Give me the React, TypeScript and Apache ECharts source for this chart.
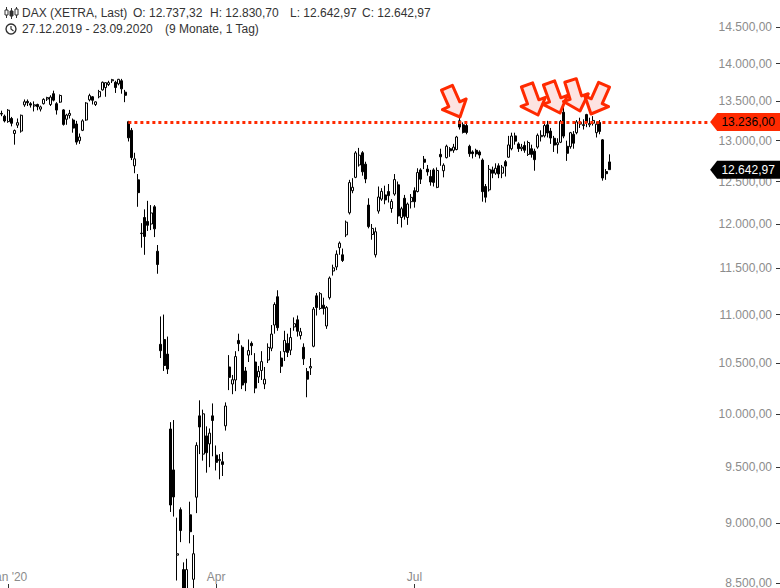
import React, { useEffect, useRef } from 'react';
import * as echarts from 'echarts';

// ---------- data ----------
const dates = [
  '2019-12-27','2019-12-30',
  '2020-01-02','2020-01-03','2020-01-06','2020-01-07','2020-01-08','2020-01-09','2020-01-10','2020-01-13','2020-01-14','2020-01-15','2020-01-16','2020-01-17','2020-01-20','2020-01-21','2020-01-22','2020-01-23','2020-01-24','2020-01-27','2020-01-28','2020-01-29','2020-01-30','2020-01-31',
  '2020-02-03','2020-02-04','2020-02-05','2020-02-06','2020-02-07','2020-02-10','2020-02-11','2020-02-12','2020-02-13','2020-02-14','2020-02-17','2020-02-18','2020-02-19','2020-02-20','2020-02-21','2020-02-24','2020-02-25','2020-02-26','2020-02-27','2020-02-28',
  '2020-03-02','2020-03-03','2020-03-04','2020-03-05','2020-03-06','2020-03-09','2020-03-10','2020-03-11','2020-03-12','2020-03-13','2020-03-16','2020-03-17','2020-03-18','2020-03-19','2020-03-20','2020-03-23','2020-03-24','2020-03-25','2020-03-26','2020-03-27','2020-03-30','2020-03-31',
  '2020-04-01','2020-04-02','2020-04-03','2020-04-06','2020-04-07','2020-04-08','2020-04-09','2020-04-14','2020-04-15','2020-04-16','2020-04-17','2020-04-20','2020-04-21','2020-04-22','2020-04-23','2020-04-24','2020-04-27','2020-04-28','2020-04-29','2020-04-30',
  '2020-05-04','2020-05-05','2020-05-06','2020-05-07','2020-05-08','2020-05-11','2020-05-12','2020-05-13','2020-05-14','2020-05-15','2020-05-18','2020-05-19','2020-05-20','2020-05-21','2020-05-22','2020-05-25','2020-05-26','2020-05-27','2020-05-28','2020-05-29',
  '2020-06-02','2020-06-03','2020-06-04','2020-06-05','2020-06-08','2020-06-09','2020-06-10','2020-06-11','2020-06-12','2020-06-15','2020-06-16','2020-06-17','2020-06-18','2020-06-19','2020-06-22','2020-06-23','2020-06-24','2020-06-25','2020-06-26','2020-06-29','2020-06-30',
  '2020-07-01','2020-07-02','2020-07-03','2020-07-06','2020-07-07','2020-07-08','2020-07-09','2020-07-10','2020-07-13','2020-07-14','2020-07-15','2020-07-16','2020-07-17','2020-07-20','2020-07-21','2020-07-22','2020-07-23','2020-07-24','2020-07-27','2020-07-28','2020-07-29','2020-07-30','2020-07-31',
  '2020-08-03','2020-08-04','2020-08-05','2020-08-06','2020-08-07','2020-08-10','2020-08-11','2020-08-12','2020-08-13','2020-08-14','2020-08-17','2020-08-18','2020-08-19','2020-08-20','2020-08-21','2020-08-24','2020-08-25','2020-08-26','2020-08-27','2020-08-28','2020-08-31',
  '2020-09-01','2020-09-02','2020-09-03','2020-09-04','2020-09-07','2020-09-08','2020-09-09','2020-09-10','2020-09-11','2020-09-14','2020-09-15','2020-09-16','2020-09-17','2020-09-18','2020-09-21','2020-09-22','2020-09-23'
];

const opens = [
  13345,13310,
  13240,13280,13090,13195,13120,13455,13500,13470,13440,13460,13400,13470,13530,13460,13600,13470,13490,13390,13270,13320,13260,13210,
  13000,13130,13260,13520,13560,13460,13560,13650,13680,13720,13770,13750,13730,13770,13620,13240,13130,12690,12520,11895,
  12075,12030,12000,12200,11690,10690,10740,10590,9855,9475,8730,9120,8610,8450,9075,8530,9230,9980,9620,9790,9715,9980,
  9610,9560,9550,9885,10460,10290,10330,10730,10660,10420,10580,10700,10510,10360,10425,10290,10530,10650,10890,11190,
  10550,10615,10700,10630,10870,10945,10780,10660,10415,10450,10670,11200,11065,11100,10880,11180,11470,11515,11730,11650,
  11875,12130,12390,12550,12700,12850,12710,12220,11880,11650,12150,12290,12340,12380,12180,12350,12460,12075,12300,12075,12260,
  12390,12380,12640,12770,12650,12560,12640,12430,12830,12630,12790,12900,12880,12890,13250,13200,13190,12930,12860,12880,12860,12760,12440,
  12400,12640,12600,12690,12600,12740,12795,12900,13060,12960,12900,12940,12830,12900,12870,12920,13050,13060,13200,13120,13030,
  12950,12980,13360,12930,12925,13080,13100,13230,13190,13330,13200,13220,13100,13230,13010,12620,12737.32
];

const closes = [
  13337,13249,
  13386,13219,13127,13227,13321,13495,13483,13452,13456,13432,13429,13526,13549,13556,13516,13388,13577,13205,13324,13345,13158,12982,
  13046,13250,13479,13575,13514,13494,13627,13750,13745,13745,13784,13681,13789,13664,13579,13035,12790,12775,12367,11890,
  11857,11985,12128,11944,11542,10625,10475,10439,9161,9232,8742,8939,8441,8610,8929,8742,9701,9874,10000,9633,9816,9936,
  9544,9571,9525,10075,10356,10333,10565,10697,10280,10302,10626,10676,10250,10416,10514,10337,10659,10796,11107,10862,
  10467,10730,10607,10760,10904,10825,10820,10542,10338,10465,11058,11075,11223,11065,11074,11392,11505,11657,11781,11587,
  12021,12487,12431,12848,12820,12617,12530,11970,11949,11911,12315,12382,12281,12331,12263,12523,12093,12177,12089,12232,12311,
  12260,12608,12528,12733,12616,12494,12489,12633,12800,12697,12931,12874,12920,13046,13171,13104,13103,12838,12839,12836,12822,12379,12313,
  12647,12600,12660,12591,12674,12687,12947,13058,12994,12901,12920,12881,12977,12830,12765,13067,13066,13190,13096,13033,12945,
  12974,13243,13057,12843,13100,12968,13237,13209,13202,13230,13217,13255,13208,13116,12542,12594,12642.97
];

const lows = [
  13310,13230,
  13225,13180,12950,13160,13100,13430,13440,13420,13370,13385,13370,13460,13505,13440,13500,13330,13480,13190,13200,13280,13100,12950,
  12960,13120,13250,13500,13460,13440,13540,13640,13560,13700,13740,13610,13710,13600,13490,12990,12760,12600,12200,11730,
  11650,11920,11930,11850,11440,10550,10420,10390,9100,9060,8520,8840,8255,8300,8830,8400,9090,9620,9560,9450,9500,9600,
  9470,9390,9420,9840,10230,10190,10220,10620,10240,10220,10510,10580,10200,10300,10330,10240,10500,10620,10800,10830,
  10400,10520,10560,10580,10830,10770,10740,10480,10160,10380,10660,10990,11050,11000,10850,11160,11420,11480,11650,11570,
  11850,12110,12360,12540,12680,12570,12480,11950,11820,11620,12120,12270,12230,12250,12130,12330,12000,11960,12050,11990,12180,
  12190,12370,12470,12650,12570,12450,12440,12420,12690,12550,12780,12800,12850,12880,13140,13090,13080,12800,12780,12800,12780,12260,12250,
  12380,12540,12580,12540,12540,12560,12790,12880,12950,12860,12870,12850,12810,12790,12630,12900,12990,13040,13040,12960,12860,
  12840,12970,13030,12750,12900,12900,13080,13160,13140,13170,13170,13190,13040,13080,12510,12520,12642.97
];

const highs = [
  13380,13330,
  13400,13300,13140,13280,13330,13525,13525,13490,13500,13470,13445,13540,13560,13580,13640,13490,13590,13400,13340,13390,13280,13250,
  13090,13270,13490,13600,13570,13500,13650,13760,13750,13770,13795,13770,13795,13795,13650,13250,13160,12850,12590,12010,
  12170,12270,12220,12220,11760,10980,11000,10770,9920,9940,9050,9140,8670,8700,9190,8900,9730,10130,10040,9880,9860,10100,
  9700,9620,9640,10110,10580,10380,10620,10800,10680,10460,10740,10720,10600,10470,10620,10460,10700,10890,11130,11260,
  10620,10830,10800,10860,10970,10990,10860,10700,10450,10550,11080,11230,11240,11180,11090,11410,11540,11700,11800,11720,
  12040,12520,12540,12870,12910,12870,12740,12300,12000,11960,12440,12420,12450,12470,12290,12590,12500,12200,12340,12250,12350,
  12430,12660,12660,12810,12700,12640,12660,12670,12900,12720,12950,12920,12960,13060,13313,13230,13220,12950,12880,12900,12880,12780,12470,
  12700,12680,12720,12720,12700,12760,13060,13100,13100,12980,12960,12990,13000,12950,12900,13090,13130,13230,13250,13160,13060,
  13030,13260,13460,13000,13110,13120,13260,13290,13270,13340,13290,13310,13240,13260,13020,12650,12830.70
];

// axis ticks / labels
const yTickValues = [8500, 9000, 9500, 10000, 10500, 11000, 11500, 12000, 12500, 13000, 13500, 14000, 14500];
const xTickLabels: Record<string, string> = {
  '2020-01-02': "Jan '20",
  '2020-04-01': 'Apr',
  '2020-07-01': 'Jul',
};

// annotations
const resistanceLevel = 13236;
const resistanceStartDate = '2020-02-24';
const headerTitle = 'DAX (XETRA, Last)';
const headerOHLC = ['O: 12.737,32', 'H: 12.830,70', 'L: 12.642,97', 'C: 12.642,97'];
const headerRange = '27.12.2019 - 23.09.2020';
const headerSpan = '(9 Monate, 1 Tag)';

// ---------- layout constants ----------
const W = 780;
const H = 588;
const TOTAL_SLOTS = 240; // visible daily slots incl. empty future area
const Y_MIN = 8459;
const Y_MAX = 14881;
const TAG_SLOT = 218; // slot where the dotted line ends & price tags start
const RED = '#ff2a00';
const FONT = 'Liberation Sans, Arial, sans-serif';

function fmtDE(v: number): string {
  const s = v.toFixed(2);
  const [ip, dp] = s.split('.');
  const withDots = ip.replace(/\B(?=(\d{3})+(?!\d))/g, '.');
  return withDots + ',' + dp;
}

const lg = (v: number) => Math.log10(v);

function arrow(x: number, y: number, rot: number) {
  return {
    type: 'polygon',
    x,
    y,
    rotation: rot,
    z: 100,
    shape: {
      points: [[0, 0], [13, -14], [6, -14], [6, -32], [-6, -32], [-6, -14], [-13, -14]],
    },
    style: { fill: '#fde3e1', stroke: RED, lineWidth: 3, lineJoin: 'round' },
  };
}

export default function App() {
  const ref = useRef<HTMLDivElement>(null);

  useEffect(() => {
    if (!ref.current) return;
    const chart = echarts.init(ref.current, undefined, { renderer: 'svg' });

    const padCount = TOTAL_SLOTS - dates.length;
    const categories = dates.concat(Array.from({ length: padCount }, (_, i) => 'pad' + i));
    const labelIdx = new Set<number>();
    dates.forEach((d, i) => { if (xTickLabels[d]) labelIdx.add(i); });

    const candleData = dates.map((_, i) => [lg(opens[i]), lg(closes[i]), lg(lows[i]), lg(highs[i])]);
    const startIdx = dates.indexOf(resistanceStartDate);
    const last = closes[closes.length - 1];
    const tagPath = 'path://M0,9L7,0L70,0L70,18L7,18Z';

    const txt = (x: number, y: number, text: string) => ({
      type: 'text', x, y, z: 100,
      style: { text, fill: '#333', fontSize: 12, fontFamily: FONT, verticalAlign: 'middle' },
    });

    const option: any = {
      animation: false,
      backgroundColor: '#fff',
      grid: { left: 0, right: 0, top: 0, bottom: 0, containLabel: false, outerBoundsMode: 'none' },
      xAxis: {
        type: 'category',
        data: categories,
        boundaryGap: true,
        axisLine: { show: false },
        splitLine: { show: false },
        axisTick: {
          show: true,
          inside: true,
          length: 4,
          alignWithLabel: true,
          interval: (i: number) => labelIdx.has(i),
          lineStyle: { color: '#333', width: 1 },
        },
        axisLabel: {
          show: true,
          inside: true,
          margin: 5,
          interval: (i: number) => labelIdx.has(i),
          formatter: (v: string) => xTickLabels[v] ?? '',
          color: '#8c8c8c',
          fontSize: 12,
          fontFamily: FONT,
          hideOverlap: false,
        },
      },
      yAxis: {
        type: 'value',
        position: 'right',
        min: lg(Y_MIN),
        max: lg(Y_MAX),
        scale: true,
        axisLine: { show: false },
        splitLine: { show: false },
        axisTick: {
          show: true,
          inside: true,
          length: 4,
          customValues: yTickValues.map(lg),
          lineStyle: { color: '#333', width: 1 },
        },
        axisLabel: {
          show: true,
          inside: true,
          margin: 8,
          customValues: yTickValues.map(lg),
          formatter: (v: number) => fmtDE(Math.round(Math.pow(10, v) / 10) * 10),
          color: '#8c8c8c',
          fontSize: 12,
          fontFamily: FONT,
        },
      },
      series: [
        {
          type: 'candlestick',
          data: candleData,
          barWidth: 2.4,
          clip: true,
          itemStyle: {
            color: '#ffffff',
            color0: '#000000',
            borderColor: '#000000',
            borderColor0: '#000000',
            borderWidth: 1,
          },
          markLine: {
            silent: true,
            symbol: ['none', 'none'],
            label: { show: false },
            lineStyle: { color: RED, width: 3, type: [3, 3] },
            data: [[
              { coord: [startIdx, lg(resistanceLevel)] },
              { coord: [TAG_SLOT, lg(resistanceLevel)] },
            ]],
          },
          markPoint: {
            silent: true,
            data: [
              {
                coord: [TAG_SLOT, lg(resistanceLevel)],
                symbol: tagPath,
                symbolSize: [70, 18],
                symbolOffset: [35, 0],
                itemStyle: { color: RED },
                label: {
                  show: true,
                  position: 'inside',
                  offset: [3, 0],
                  formatter: fmtDE(resistanceLevel),
                  color: '#000',
                  fontSize: 12,
                  fontFamily: FONT,
                },
              },
              {
                coord: [TAG_SLOT, lg(last)],
                symbol: tagPath,
                symbolSize: [70, 18],
                symbolOffset: [35, 0],
                itemStyle: { color: '#000' },
                label: {
                  show: true,
                  position: 'inside',
                  offset: [3, 0],
                  formatter: fmtDE(last),
                  color: '#fff',
                  fontSize: 12,
                  fontFamily: FONT,
                },
              },
            ],
          },
        },
      ],
      graphic: [
        // candlestick icon
        { type: 'group', x: 5, y: 7, z: 100, children: [
          { type: 'line', shape: { x1: 1.5, y1: 0, x2: 1.5, y2: 11 }, style: { stroke: '#333', lineWidth: 1 } },
          { type: 'rect', shape: { x: 0, y: 3, width: 3, height: 5 }, style: { fill: '#fff', stroke: '#333', lineWidth: 1 } },
          { type: 'line', shape: { x1: 6.5, y1: 1, x2: 6.5, y2: 12 }, style: { stroke: '#333', lineWidth: 1 } },
          { type: 'rect', shape: { x: 5, y: 4, width: 3, height: 5 }, style: { fill: '#333', stroke: '#333', lineWidth: 1 } },
          { type: 'line', shape: { x1: 11.5, y1: 0, x2: 11.5, y2: 11 }, style: { stroke: '#333', lineWidth: 1 } },
          { type: 'rect', shape: { x: 10, y: 2, width: 3, height: 6 }, style: { fill: '#fff', stroke: '#333', lineWidth: 1 } },
        ] },
        // clock icon
        { type: 'group', x: 11, y: 29, z: 100, children: [
          { type: 'circle', shape: { cx: 0, cy: 0, r: 5 }, style: { fill: 'none', stroke: '#333', lineWidth: 1.4 } },
          { type: 'polyline', shape: { points: [[0, -3], [0, 0], [2.5, 2]] }, style: { fill: 'none', stroke: '#333', lineWidth: 1.2 } },
        ] },
        txt(22, 13, headerTitle),
        txt(133, 13, headerOHLC[0]),
        txt(210, 13, headerOHLC[1]),
        txt(290, 13, headerOHLC[2]),
        txt(362, 13, headerOHLC[3]),
        txt(22, 29, headerRange),
        txt(165, 29, headerSpan),
        // resistance-touch arrows
        arrow(460, 117, 0.42),
        arrow(538, 115, 0.35),
        arrow(560, 113, 0.35),
        arrow(580, 111, 0.3),
        arrow(591, 114, -0.42),
      ],
    };

    chart.setOption(option);
    return () => chart.dispose();
  }, []);

  return (
    <div
      ref={ref}
      style={{ position: 'fixed', left: 0, top: 0, width: W, height: H, background: '#fff' }}
    />
  );
}
